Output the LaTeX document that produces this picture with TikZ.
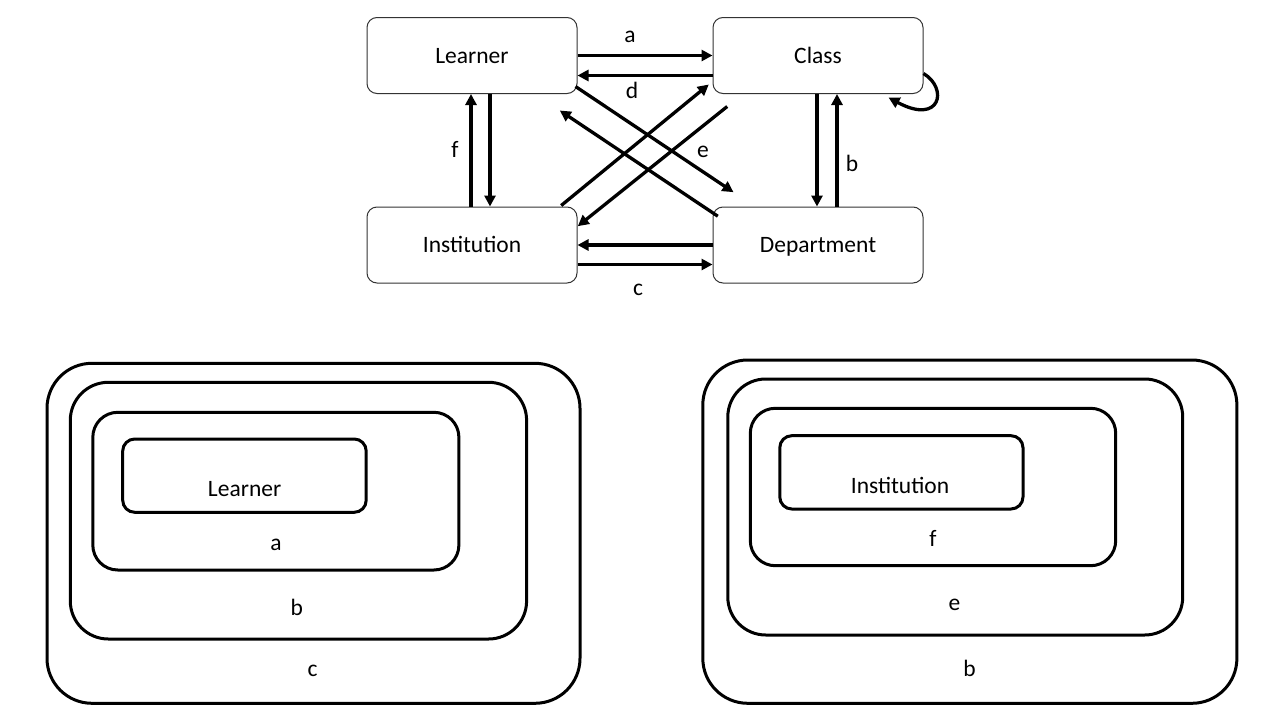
\documentclass[tikz,border=0pt]{standalone}
\usepackage{fontspec}
\setmainfont{Carlito}
\usetikzlibrary{arrows.meta}
\begin{document}
\begin{tikzpicture}[x=1pt,y=-1pt,
  box/.style={draw=black!80,line width=1pt,rounded corners=10pt,minimum width=210pt,minimum height=76pt,inner sep=0pt,text height=15.6pt,text depth=0pt,font=\fontsize{23.5}{28}\selectfont},
  arr/.style={line width=3.3pt,-{Triangle[length=11pt,width=11pt]}},
  nest/.style={line width=3pt,draw=black},
  lbl/.style={font=\fontsize{23.5}{28}\selectfont,inner sep=0pt,anchor=base}]
\useasboundingbox[fill=white] (0,0) rectangle (1280,720);
% top graph
\node[box] (L) at (472,55.5) {Learner};
\node[box] (C) at (818,55.5) {Class};
\node[box] (I) at (472,245) {Institution};
\node[box] (D) at (818,245) {Department};
% horizontal
\draw[arr] (L.east) -- (C.west);
\draw[arr] ([yshift=-20pt]C.west) -- ([yshift=-20pt]L.east);
\draw[arr] (D.west) -- (I.east);
\draw[arr] ([yshift=-19.5pt]I.east) -- ([yshift=-19.5pt]D.west);
% vertical
\draw[arr] ([xshift=18pt]L.south) -- ([xshift=18pt]I.north);
\draw[arr] ([xshift=-1pt]I.north) -- ([xshift=-1pt]L.south);
\draw[arr] ([xshift=-1pt]C.south) -- ([xshift=-1pt]D.north);
\draw[arr] ([xshift=19pt]D.north) -- ([xshift=19pt]C.south);
% diagonals
\draw[arr] ([xshift=-2pt,yshift=7.5pt]L.south east) -- ([xshift=21pt,yshift=14.3pt]D.north west);
\draw[arr] ([xshift=5.3pt,yshift=-9.7pt]D.north west) -- ([xshift=-17.7pt,yshift=-16.5pt]L.south east);
\draw[arr] ([xshift=-16.3pt,yshift=1pt]I.north east) -- ([xshift=-3.7pt,yshift=9.5pt]C.south west);
\draw[arr] ([xshift=14.7pt,yshift=-12.5pt]C.south west) -- ([xshift=0.3pt,yshift=-19.7pt]I.north east);
% self loop
\draw[arr] ([yshift=-18pt]C.east) .. controls +(25,15) and +(52,28) .. ([xshift=-35pt,yshift=-3.5pt]C.south east);
% labels
\node[lbl] (la) at (630,42.3) {a};
\node[lbl] (ld) at (632,98.3) {d};
\node[lbl] (lf) at (455,157.7) {f};
\node[lbl] (le) at (703,157.7) {e};
\node[lbl] (lb) at (852,171.7) {b};
\node[lbl] (lc) at (638,295) {c};
% bottom left nested
\draw[nest,rounded corners=45pt] (47,363.3) rectangle (580,703.3);
\draw[nest,rounded corners=38pt] (70.3,382.3) rectangle (526.6,639);
\draw[nest,rounded corners=25pt] (92.8,412.3) rectangle (458.9,570);
\draw[nest,rounded corners=12pt] (122.7,439) rectangle (366.2,512.3);
\node[lbl] (bl1) at (244.6,496.7) {Learner};
\node[lbl] (bl2) at (276,550) {a};
\node[lbl] (bl3) at (296.7,615) {b};
\node[lbl] (bl4) at (312.7,676.7) {c};
% bottom right nested
\draw[nest,rounded corners=45pt] (702.8,360) rectangle (1236.9,703.3);
\draw[nest,rounded corners=38pt] (727.8,379) rectangle (1182.7,635);
\draw[nest,rounded corners=25pt] (750.3,408.3) rectangle (1115.7,565.7);
\draw[nest,rounded corners=12pt] (779.8,435.7) rectangle (1023,509);
\node[lbl] (br1) at (900,493.3) {Institution};
\node[lbl] (br2) at (933,546.7) {f};
\node[lbl] (br3) at (954.5,610.7) {e};
\node[lbl] (br4) at (969.5,676) {b};
\end{tikzpicture}
\end{document}
